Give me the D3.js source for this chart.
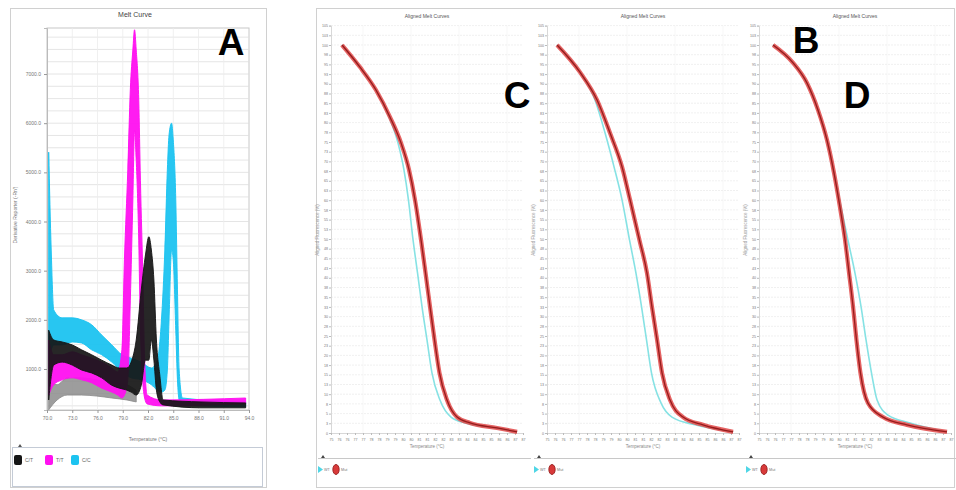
<!DOCTYPE html>
<html>
<head>
<meta charset="utf-8">
<title>Melt curves</title>
<script src="https://cdn.jsdelivr.net/npm/d3@7"></script>
<style>
  body { margin: 0; background: #fff; }
  text { font-family: "Liberation Sans", Arial, sans-serif; }
  .tick text { fill: #777; }
</style>
</head>
<body>
<svg width="956" height="490"></svg>
<script>

// ---- panel A : derivative melt curve ----
var meltTicksX = [70, 73, 76, 79, 82, 85, 88, 91, 94];
var meltTicksY = [1000, 2000, 3000, 4000, 5000, 6000, 7000];
var meltGroups = ["C/T", "T/T", "C/C"];

// bands of replicates: [temperature, lowest trace, highest trace]
var blackBand = [[70.2,370,1790],[70.8,1080,1590],[71.8,1140,1550],[73.0,1080,1490],[74.1,980,1390],
  [75.3,920,1290],[76.5,820,1180],[77.7,670,1080],[78.6,610,1020],[79.5,570,1020],[80.0,530,1140],
  [80.6,470,1590],[81.2,670,2610],[81.7,1180,3320],[82.1,1180,3690],[82.4,1590,3420],[82.7,1180,2810],
  [83.0,570,1590],[83.4,330,880],[83.8,270,370],[88.3,210,330],[93.6,210,310]];
var magentaBand = [[70.2,470,1590],[70.8,680,1290],[71.8,780,1290],[73.0,820,1350],[74.1,780,1290],
  [75.3,720,1220],[76.5,610,1140],[77.7,530,1020],[78.4,470,940],[78.9,410,1390],[79.2,470,3220],
  [79.6,780,5050],[79.9,2400,6680],[80.2,4440,7490],[80.4,5860,7900],[80.6,5250,7490],[80.9,3620,6470],
  [81.1,1790,4840],[81.4,680,2810],[81.6,410,1180],[81.9,290,470],[83.6,250,370],[93.6,290,410]];
var cyanBand = [[70.2,1180,5410],[70.5,1390,3420],[70.8,1490,2200],[71.8,1490,2040],[73.0,1550,2040],
  [74.1,1530,2000],[75.3,1390,1900],[76.5,1290,1690],[77.7,1140,1490],[78.9,940,1290],[80.0,820,1220],
  [81.2,780,1140],[82.4,680,1020],[83.1,570,1180],[83.6,530,2000],[84.0,570,3420],[84.3,980,5050],
  [84.5,2000,5760],[84.8,3420,6000],[85.0,3220,5660],[85.3,1790,4440],[85.5,780,2610],[85.7,370,980],
  [86.1,270,410],[93.6,230,330]];
var grayBand = [[70.2,170,780],[71.2,370,680],[72.4,470,820],[74.1,470,820],[75.9,450,780],
  [77.7,410,740],[79.5,370,680],[80.6,330,570]];

// ---- panels C / middle / D : aligned melt curves ----
var alignTicksX = [75, 75.5, 76, 76.5, 77, 77.5, 78, 78.5, 79, 79.5, 80, 80.5, 81, 81.5, 82, 82.5,
  83, 83.5, 84, 84.5, 85, 85.5, 86, 86.5, 87];
var alignTicksY = [0, 2.5, 5, 7.5, 10, 12.5, 15, 17.5, 20, 22.5, 25, 27.5, 30, 32.5, 35, 37.5, 40, 42.5,
  45, 47.5, 50, 52.5, 55, 57.5, 60, 62.5, 65, 67.5, 70, 72.5, 75, 77.5, 80, 82.5, 85, 87.5, 90, 92.5,
  95, 97.5, 100, 102.5, 105];
var alignGroups = ["WT", "Mut"];

var panelC_red = [[75.69,100],[76.81,94.3],[77.81,88.4],[78.69,81.4],[79.38,74.7],[79.88,67.8],
  [80.25,60.1],[80.63,49.7],[80.91,41.2],[81.19,32.5],[81.47,24.0],[81.78,15.5],[82.25,8.5],
  [82.88,4.1],[83.69,2.6],[85.38,1.3],[86.63,0.3]];
var panelC_cyan = [[75.69,100],[76.81,94.3],[77.81,88.4],[78.63,81.4],[79.19,74.7],[79.56,67.8],
  [79.84,60.1],[80.13,49.7],[80.41,41.2],[80.69,32.5],[81.0,24.0],[81.31,15.5],[81.81,8.5],
  [82.5,4.1],[83.38,2.6],[85.25,1.3],[86.63,0.3]];
var panelM_red = [[75.63,100],[77.06,93.0],[78.13,85.8],[78.94,77.3],[79.69,68.6],[80.19,60.1],
  [80.78,49.7],[81.25,41.2],[81.56,32.5],[81.88,24.0],[82.19,15.5],[82.69,8.5],[83.5,4.1],
  [84.75,2.1],[86.63,0.3]];
var panelM_cyan = [[75.63,100],[77.06,93.0],[78.0,85.8],[78.63,77.3],[79.19,68.6],[79.69,60.1],
  [80.16,49.7],[80.56,41.2],[80.91,32.5],[81.22,24.0],[81.53,15.5],[82.13,7.7],[82.81,4.1],
  [84.25,2.1],[86.63,0.3]];
var panelD_red = [[75.88,100],[77.13,95.4],[78.0,90.2],[78.69,83.2],[79.25,75.5],[79.69,67.0],
  [80.06,58.2],[80.38,49.7],[80.63,41.2],[80.88,32.5],[81.09,24.0],[81.34,15.5],[81.81,7.7],
  [82.75,4.1],[84.25,2.1],[86.75,0.3]];
var panelD_cyan = [[75.88,100],[77.13,95.4],[78.0,90.2],[78.69,83.2],[79.25,75.5],[79.69,67.0],
  [80.13,58.2],[80.56,49.7],[81.0,41.2],[81.38,32.5],[81.69,24.0],[82.03,15.5],[82.38,8.5],
  [83.06,4.6],[84.44,2.6],[86.75,0.3]];


var svg = d3.select("svg");

// ================= panel A =================
var gA = svg.append("g");
gA.append("rect").attr("x", 10.5).attr("y", 8.5).attr("width", 256).attr("height", 479)
  .attr("fill", "none").attr("stroke", "#d0d0d0");
gA.append("text").attr("x", 135).attr("y", 17).attr("text-anchor", "middle")
  .attr("font-size", 7).attr("fill", "#444").text("Melt Curve");

var ax = d3.scaleLinear().domain([70, 94]).range([47, 249]);
var ay = d3.scaleLinear().domain([166, 7936]).range([410, 28]);

gA.append("rect").attr("x", 47).attr("y", 28).attr("width", 202).attr("height", 382)
  .attr("fill", "#fff").attr("stroke", "#c8c8c8");

// grid
gA.append("g").selectAll("line").data(d3.range(250, 7900, 250)).enter().append("line")
  .attr("x1", 47).attr("x2", 249)
  .attr("y1", function(d) { return ay(d); }).attr("y2", function(d) { return ay(d); })
  .attr("stroke", "#dedede").attr("stroke-width", 0.8);
gA.append("g").selectAll("line").data(meltTicksX.slice(1, -1)).enter().append("line")
  .attr("y1", 28).attr("y2", 410)
  .attr("x1", function(d) { return ax(d); }).attr("x2", function(d) { return ax(d); })
  .attr("stroke", "#ececec").attr("stroke-width", 0.8);

var yAxisA = gA.append("g").attr("transform", "translate(47,0)")
  .call(d3.axisLeft(ay).tickValues(meltTicksY).tickSize(3).tickFormat(function(d) { return d + ".0"; }));
var xAxisA = gA.append("g").attr("transform", "translate(0,410)")
  .call(d3.axisBottom(ax).tickValues(meltTicksX).tickSize(3).tickFormat(function(d) { return d + ".0"; }));
[yAxisA, xAxisA].forEach(function(a) {
  a.select(".domain").attr("stroke", "#bbb");
  a.selectAll(".tick line").attr("stroke", "#999");
  a.selectAll(".tick text").attr("font-size", 5);
});

gA.append("text").attr("x", 148).attr("y", 441).attr("text-anchor", "middle")
  .attr("font-size", 5).attr("fill", "#777").text("Temperature (°C)");
gA.append("text").attr("transform", "translate(17,215) rotate(-90)").attr("text-anchor", "middle")
  .attr("font-size", 5).attr("fill", "#777").text("Derivative Reporter (-Rn')");

var bandArea = d3.area()
  .x(function(d) { return ax(d[0]); })
  .y0(function(d) { return ay(d[1]); })
  .y1(function(d) { return ay(d[2]); })
  .curve(d3.curveMonotoneX);

var clipA = svg.append("clipPath").attr("id", "clipA");
clipA.append("rect").attr("x", 47).attr("y", 28).attr("width", 202).attr("height", 382);
var curvesA = gA.append("g").attr("clip-path", "url(#clipA)");

var bands = [
  { data: grayBand, color: "#8c8c8c", op: 0.85 },
  { data: cyanBand, color: "#1cc3f0", op: 0.95 },
  { data: magentaBand, color: "#ff10f0", op: 0.95 },
  { data: blackBand, color: "#151515", op: 0.92 }
];
bands.forEach(function(b) {
  curvesA.append("path").datum(b.data).attr("d", bandArea)
    .attr("fill", b.color).attr("fill-opacity", b.op)
    .attr("stroke", b.color).attr("stroke-width", 1).attr("stroke-opacity", b.op);
});

// legend box
var legA = gA.append("g");
legA.append("rect").attr("x", 12.5).attr("y", 447.5).attr("width", 250).attr("height", 39)
  .attr("fill", "#fff").attr("stroke", "#c4cbd6");
legA.append("path").attr("d", "M18,447 l2,-3 l2,3 z").attr("fill", "#555");
var legColors = ["#151515", "#ff10f0", "#1cc3f0"];
var legX = [14, 45, 71];
meltGroups.forEach(function(g, i) {
  legA.append("rect").attr("x", legX[i]).attr("y", 455).attr("width", 8).attr("height", 10)
    .attr("rx", 2).attr("fill", legColors[i]);
  legA.append("text").attr("x", legX[i] + 11).attr("y", 462).attr("font-size", 5)
    .attr("fill", "#666").text(g);
});

// ================= right group =================
svg.append("rect").attr("x", 316.5).attr("y", 8.5).attr("width", 638).attr("height", 479)
  .attr("fill", "none").attr("stroke", "#d0d0d0");

var panels = [
  { left: 331, red: panelC_red, cyan: panelC_cyan },
  { left: 547, red: panelM_red, cyan: panelM_cyan },
  { left: 759, red: panelD_red, cyan: panelD_cyan }
];
var plotW = 192;

var py = d3.scaleLinear().domain([0, 105]).range([433, 25.6]);

panels.forEach(function(p, k) {
  var g = svg.append("g");
  var px = d3.scaleLinear().domain([75, 87]).range([p.left, p.left + plotW]);

  g.append("text").attr("x", p.left + plotW / 2).attr("y", 18).attr("text-anchor", "middle")
    .attr("font-size", 5).attr("fill", "#555").text("Aligned Melt Curves");

  g.append("g").selectAll("line").data(alignTicksY.slice(1)).enter().append("line")
    .attr("x1", p.left).attr("x2", p.left + plotW)
    .attr("y1", function(d) { return py(d); }).attr("y2", function(d) { return py(d); })
    .attr("stroke", "#e6e6e6").attr("stroke-width", 0.6).attr("stroke-dasharray", "2,1");
  g.append("g").selectAll("line").data([77, 80, 83, 86]).enter().append("line")
    .attr("y1", 25.6).attr("y2", 433)
    .attr("x1", function(d) { return px(d); }).attr("x2", function(d) { return px(d); })
    .attr("stroke", "#f2f2f2").attr("stroke-width", 0.6);

  var yAx = g.append("g").attr("transform", "translate(" + p.left + ",0)")
    .call(d3.axisLeft(py).tickValues(alignTicksY).tickSize(2));
  var xAx = g.append("g").attr("transform", "translate(0,433)")
    .call(d3.axisBottom(px).tickValues(alignTicksX).tickSize(2));
  [yAx, xAx].forEach(function(a) {
    a.select(".domain").attr("stroke", "#d8d8d8");
    a.selectAll(".tick line").attr("stroke", "#bbb");
    a.selectAll(".tick text").attr("font-size", 3.6);
  });
  yAx.selectAll(".tick text").attr("x", -3);

  g.append("text").attr("x", p.left + plotW / 2).attr("y", 448).attr("text-anchor", "middle")
    .attr("font-size", 4.5).attr("fill", "#888").text("Temperature (°C)");
  g.append("text").attr("transform", "translate(" + (p.left - 12) + ",230) rotate(-90)")
    .attr("text-anchor", "middle").attr("font-size", 4.5).attr("fill", "#999")
    .text("Aligned Fluorescence (%)");

  var line = d3.line()
    .x(function(d) { return px(d[0]); })
    .y(function(d) { return py(d[1]); })
    .curve(d3.curveMonotoneX);

  g.append("path").datum(p.cyan).attr("d", line).attr("fill", "none")
    .attr("stroke", "#86e2e4").attr("stroke-width", 1.6);
  g.append("path").datum(p.red).attr("d", line).attr("fill", "none")
    .attr("stroke", "#e04848").attr("stroke-width", 4.2).attr("stroke-opacity", 0.85);
  g.append("path").datum(p.red).attr("d", line).attr("fill", "none")
    .attr("stroke", "#8e1414").attr("stroke-width", 1.3).attr("stroke-opacity", 0.9);

  // legend strip
  g.append("line").attr("x1", p.left - 13).attr("x2", p.left + plotW + 8)
    .attr("y1", 458.5).attr("y2", 458.5).attr("stroke", "#c8c8c8");
  g.append("path").attr("d", "M" + (p.left - 10) + ",458 l2,-3 l2,3 z").attr("fill", "#444");
  var lx = p.left - 13;
  g.append("path").attr("d", "M" + lx + ",466 l5,3.5 l-5,3.5 z").attr("fill", "#4fd6e6");
  g.append("text").attr("x", lx + 6).attr("y", 471).attr("font-size", 3.8).attr("fill", "#777")
    .text(alignGroups[0]);
  g.append("ellipse").attr("cx", lx + 18).attr("cy", 469.5).attr("rx", 3.2).attr("ry", 5)
    .attr("fill", "#d83a3a").attr("stroke", "#8e1414").attr("stroke-width", 0.8);
  g.append("text").attr("x", lx + 23).attr("y", 471).attr("font-size", 3.8).attr("fill", "#777")
    .text(alignGroups[1]);
});

// panel letters
var letters = [["A", 231, 55], ["C", 517, 108], ["B", 806, 53], ["D", 857, 108]];
letters.forEach(function(l) {
  svg.append("text").attr("x", l[1]).attr("y", l[2]).attr("text-anchor", "middle")
    .attr("font-size", 37).attr("font-weight", "bold").attr("fill", "#000").text(l[0]);
});

</script>
</body>
</html>
